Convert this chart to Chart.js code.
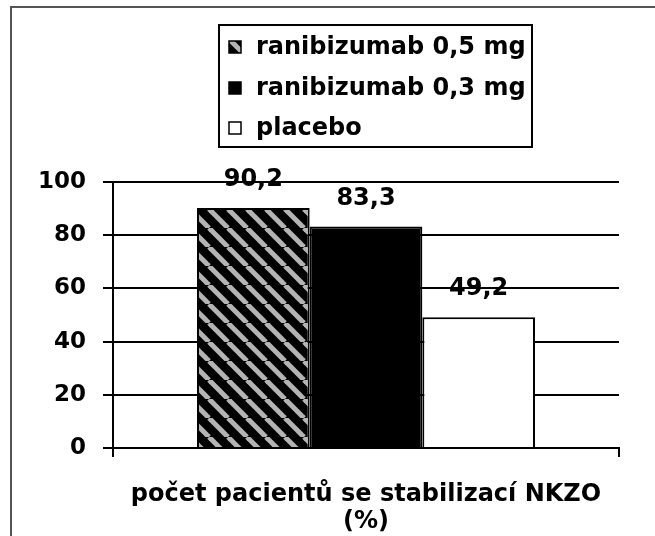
<!DOCTYPE html>
<html lang="cs">
<head>
<meta charset="UTF-8">
<title>Stabilizace NKZO</title>
<script src="https://cdn.jsdelivr.net/npm/chart.js"></script>
<style>
  body { margin: 0; background: #fff; }
  canvas { display: block; }
</style>
</head>
<body>
<canvas id="chart" width="655" height="536"></canvas>
<script>
// data
const categories = [['počet pacientů se stabilizací NKZO', '(%)']];
const seriesNames = ['ranibizumab 0,5 mg', 'ranibizumab 0,3 mg', 'placebo'];
const ranibizumab05 = [90.2];
const ranibizumab03 = [83.3];
const placebo = [49.2];
const yTicks = [0, 20, 40, 60, 80, 100];

// diagonal hatch for the 0,5 mg bar
function makeHatch() {
    const p = 19;
    const c = document.createElement('canvas');
    c.width = p; c.height = p;
    const g = c.getContext('2d');
    g.fillStyle = '#000';
    g.fillRect(0, 0, p, p);
    g.strokeStyle = '#b4b4b4';
    g.lineWidth = 5;
    for (const x0 of [-p, 0, p]) {
        g.beginPath();
        g.moveTo(x0, 0);
        g.lineTo(x0 + p, p);
        g.stroke();
    }
    return g.createPattern(c, 'repeat');
}
const hatch = makeHatch();

const FONT = 'bold 24px "DejaVu Sans"';

const framePlugin = {
    id: 'frame',
    beforeDraw(chart) {
        const ctx = chart.ctx;
        ctx.save();
        ctx.strokeStyle = '#555';
        ctx.lineWidth = 2;
        ctx.beginPath();
        ctx.moveTo(11, chart.height);
        ctx.lineTo(11, 7);
        ctx.lineTo(chart.width, 7);
        ctx.stroke();
        ctx.restore();
    }
};

const valueLabels = {
    id: 'valueLabels',
    afterDatasetsDraw(chart) {
        const ctx = chart.ctx;
        ctx.save();
        ctx.font = FONT;
        ctx.fillStyle = '#000';
        ctx.textAlign = 'center';
        ctx.textBaseline = 'middle';
        chart.data.datasets.forEach((ds, i) => {
            chart.getDatasetMeta(i).data.forEach((bar, j) => {
                const txt = String(ds.data[j]).replace('.', ',');
                ctx.fillText(txt, bar.x, bar.y - 28);
            });
        });
        ctx.restore();
    }
};

const boxLegend = {
    id: 'boxLegend',
    afterDraw(chart) {
        const ctx = chart.ctx;
        ctx.save();
        ctx.lineWidth = 2;
        ctx.strokeStyle = '#000';
        ctx.strokeRect(219, 25, 313, 122);
        ctx.font = FONT;
        ctx.textAlign = 'left';
        ctx.textBaseline = 'middle';
        const rows = [47, 88, 128];
        chart.data.datasets.forEach((ds, i) => {
            const y = rows[i];
            ctx.fillStyle = ds.backgroundColor;
            ctx.fillRect(229, y - 6, 12, 12);
            ctx.lineWidth = 1.5;
            ctx.strokeRect(229, y - 6, 12, 12);
            ctx.fillStyle = '#000';
            ctx.fillText(ds.label, 256, y + 1);
        });
        ctx.restore();
    }
};

Chart.defaults.font.family = '"DejaVu Sans"';
Chart.defaults.font.size = 23;
Chart.defaults.font.weight = 'bold';
Chart.defaults.color = '#000';

new Chart(document.getElementById('chart'), {
    type: 'bar',
    data: {
        labels: categories,
        datasets: [
            { label: seriesNames[0], data: ranibizumab05, backgroundColor: hatch },
            { label: seriesNames[1], data: ranibizumab03, backgroundColor: '#000' },
            { label: seriesNames[2], data: placebo, backgroundColor: '#fff' }
        ]
    },
    options: {
        responsive: false,
        animation: false,
        layout: { padding: { top: 182, right: 36, left: 0, bottom: 0 } },
        datasets: {
            bar: {
                borderColor: '#000',
                borderWidth: 2,
                barPercentage: 1,
                categoryPercentage: 0.668
            }
        },
        plugins: {
            legend: { display: false },
            tooltip: { enabled: false }
        },
        scales: {
            x: {
                grid: { drawOnChartArea: false, color: '#000', lineWidth: 2, tickLength: 9 },
                border: { color: '#000', width: 2 },
                ticks: { padding: 24, font: { size: 24, lineHeight: 1.125 } },
                afterFit(s) { s.height = 88; }
            },
            y: {
                min: 0,
                max: 100,
                afterBuildTicks(s) { s.ticks = yTicks.map(v => ({ value: v })); },
                grid: { color: '#000', lineWidth: 2, tickLength: 10 },
                border: { color: '#000', width: 2 },
                ticks: { padding: 17 },
                afterFit(s) { s.width = 113; }
            }
        }
    },
    plugins: [framePlugin, valueLabels, boxLegend]
});
</script>
</body>
</html>
